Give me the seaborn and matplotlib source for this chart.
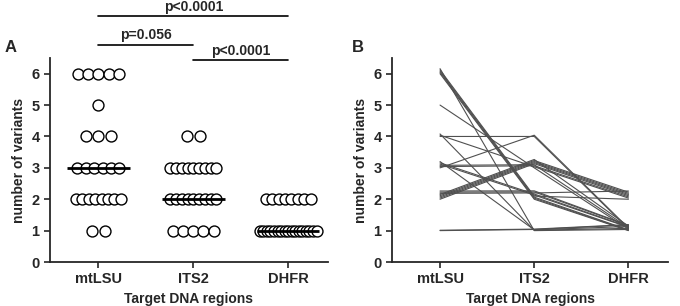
import numpy as np
import pandas as pd
import matplotlib
matplotlib.use('Agg')
import matplotlib.pyplot as plt
import seaborn as sns

regions = ['mtLSU', 'ITS2', 'DHFR']
# number of variants per isolate in each target region (paired by isolate)
mtlsu = [6, 6, 6, 6, 6, 5, 4, 4, 4, 3, 3, 3, 3, 3, 3, 2, 2, 2, 2, 2, 2, 2, 2, 1, 1]
its2 = [2, 2, 2, 2, 1, 3, 4, 3, 1, 4, 3, 3, 2, 2, 1, 3, 3, 3, 3, 3, 2, 2, 2, 1, 1]
dhfr = [1, 1, 1, 2, 1, 1, 1, 2, 1, 1, 2, 1, 1, 1, 1, 2, 2, 2, 2, 1, 2, 1, 1, 1, 1]
comparisons = [(0, 1), (1, 2), (0, 2)]
p_labels = ['p=0.056', 'p<0.0001', 'p<0.0001']

sns.set_style('ticks')
plt.rcParams['font.family'] = ['Liberation Sans', 'DejaVu Sans']
plt.rcParams['font.weight'] = 'bold'
plt.rcParams['axes.labelweight'] = 'bold'

rows = []
for s, vals in enumerate(zip(mtlsu, its2, dhfr)):
    for i, v in enumerate(vals):
        rows.append({'subject': s, 'region': regions[i], 'pos': i, 'value': v})
df = pd.DataFrame(rows)

# spread points of the same value side by side (Prism-like scatter)
df['xs'] = 0.0
df['yoff'] = 0.0
for (pos, v), grp in df.groupby(['pos', 'value']):
    n = len(grp)
    span = min((n - 1) * 0.133, 0.36 + 0.014 * n)
    df.loc[grp.index, 'xs'] = pos + np.linspace(-span / 2, span / 2, n)
    step = min(0.04, 0.3 / n) if v > 1 else 0.012
    df.loc[grp.index, 'yoff'] = np.arange(n) * step
df['yb'] = df['value'] + df['yoff']

fig = plt.figure(figsize=(6.8, 3.06), dpi=100)
axA = fig.add_axes([50 / 680, 1 - 262 / 306, 278 / 680, 204 / 306])
axB = fig.add_axes([392 / 680, 1 - 262 / 306, 276 / 680, 204 / 306])

# panel A
sns.scatterplot(data=df, x='xs', y='value', ax=axA, s=62, color='white',
                edgecolor='black', linewidth=1, zorder=2, clip_on=False)
for i, r in enumerate(regions):
    med = df.loc[df['region'] == r, 'value'].median()
    axA.hlines(med, i - 0.33, i + 0.33, color='black', lw=2, zorder=3)

bracket_y = [6.93, 6.45, 7.85]
for (a, b), lab, y in zip(comparisons, p_labels, bracket_y):
    axA.plot([a, b], [y, y], color='black', lw=1.2, clip_on=False)
    axA.text((a + b) / 2, y + 0.16, lab, ha='center', va='baseline',
             fontsize=10, fontweight='bold')

# panel B
sns.lineplot(data=df, x='pos', y='yb', units='subject', estimator=None,
             ax=axB, color='#505050', lw=0.8)

for ax in (axA, axB):
    ax.set_xlim(-0.51, 2.42)
    ax.set_ylim(0, 6.5)
    ax.set_xticks(range(3))
    ax.set_xticklabels(regions)
    ax.set_yticks(range(7))
    ax.set_xlabel('Target DNA regions', fontsize=10, fontweight='bold')
    ax.set_ylabel('number of variants', fontsize=10, fontweight='bold')
    ax.tick_params(labelsize=10.5, length=4, width=1.2)
    for t in ax.get_xticklabels() + ax.get_yticklabels():
        t.set_fontweight('bold')
    for sp in ('left', 'bottom'):
        ax.spines[sp].set_linewidth(1.3)
    sns.despine(ax=ax)

fig.text(5 / 680, 1 - 47 / 306, 'A', fontsize=12, fontweight='bold', va='center')
fig.text(352 / 680, 1 - 47 / 306, 'B', fontsize=12, fontweight='bold', va='center')

fig.savefig('out.png', dpi=100)
